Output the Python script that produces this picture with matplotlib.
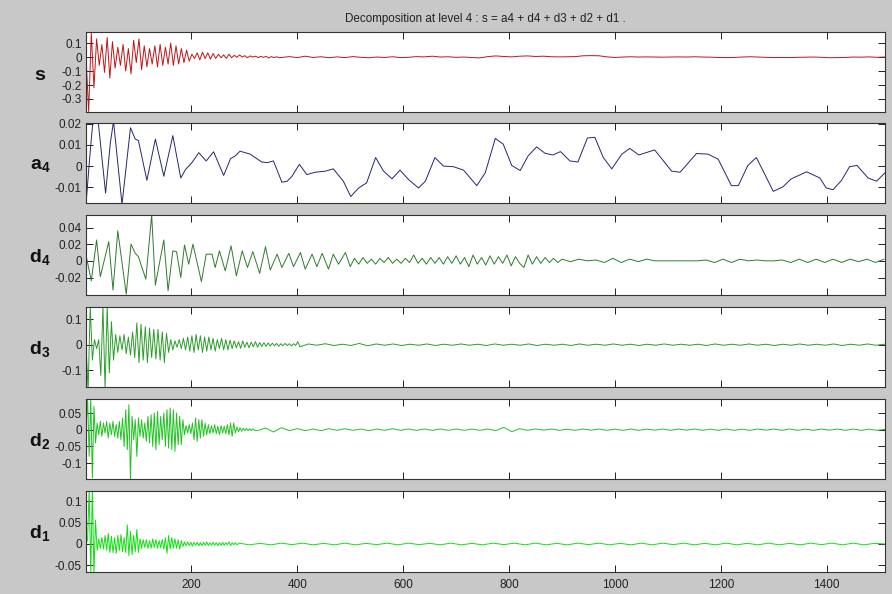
import numpy as np
import matplotlib
matplotlib.use("Agg")
import matplotlib.pyplot as plt

plt.rcParams['font.family'] = ['Liberation Sans', 'DejaVu Sans']
plt.rcParams['mathtext.fontset'] = 'custom'
plt.rcParams['mathtext.rm'] = 'Liberation Sans'
plt.rcParams['mathtext.bf'] = 'Liberation Sans:bold'

# ---------- data ----------
N_SAMPLES = 1510
TITLE = "Decomposition at level 4 : s = a4 + d4 + d3 + d2 + d1 ."
X_TICKS = [200, 400, 600, 800, 1000, 1200, 1400]

# s : head every 5 samples from 1, tail every 15 samples from 385
S_HEAD = [0.01, -0.39, 0.17, -0.22, 0.13, -0.06, 0.09, -0.11, 0.14, -0.15,
          0.11, -0.08, 0.07, -0.06, 0.09, -0.10, 0.06, -0.12, 0.12, -0.04,
          0.13, -0.09, 0.08, -0.07, 0.06, -0.05, 0.08, -0.07, 0.09, -0.06,
          0.07, -0.05, 0.10, -0.06, 0.08, -0.05, 0.06, -0.04, 0.05, -0.03,
          0.02, -0.01, 0.03, -0.02, 0.035, -0.01, 0.03, -0.015, 0.025, -0.01,
          0.02, -0.005, 0.015, -0.01, 0.02, -0.005, 0.012, -0.002, 0.015, 0.0,
          0.01, -0.005, 0.008, 0.0, 0.006, -0.004, 0.005, -0.002, 0.004, -0.006,
          0.003, -0.004, 0.002, -0.005]
S_TAIL = [0.003, -0.004, 0.006, -0.003, 0.002, -0.005, 0.001, -0.004, 0.003, -0.002,
          -0.005, 0.0, -0.003, 0.002, -0.004, -0.002, 0.003, 0.001, 0.006, 0.0,
          0.002, -0.002, 0.0, -0.004, -0.006, 0.003, 0.008, 0.004, 0.001, 0.006,
          0.008, 0.004, 0.006, 0.002, 0.001, 0.002, 0.003, 0.009, 0.010, 0.009,
          0.001, -0.003, 0.0, 0.002, 0.0, 0.001, 0.0, -0.001, 0.0, 0.001,
          0.0, 0.002, 0.0, -0.001, -0.003, -0.004, -0.003, 0.0, 0.002, 0.0,
          -0.002, -0.004, -0.003, -0.004, -0.002, -0.001, 0.0, -0.002, -0.005, -0.004,
          -0.003, 0.0, -0.001, 0.001, -0.002, 0.0]

# a4 : approximation, turning points
A4_X = [1, 8, 14, 24, 38, 47, 53, 69, 85, 94, 100, 116, 132, 148, 165, 180, 189,
        201, 214, 228, 242, 261, 274, 283, 292, 311, 333, 343, 355, 371, 381, 390,
        404, 418, 434, 453, 468, 487, 501, 516, 531, 548, 563, 579, 594, 610, 629,
        642, 660, 676, 695, 714, 739, 755, 774, 789, 805, 821, 836, 852, 868, 883,
        897, 915, 930, 948, 962, 978, 994, 1013, 1028, 1045, 1075, 1107, 1123, 1154,
        1176, 1195, 1220, 1233, 1251, 1267, 1280, 1299, 1317, 1333, 1362, 1387, 1399,
        1412, 1428, 1443, 1457, 1478, 1494, 1510]
A4_Y = [-0.018, 0.004, 0.021, 0.021, -0.0127, 0.011, 0.021, -0.018, 0.018, 0.0127,
        0.012, -0.0067, 0.0127, -0.0048, 0.0143, -0.0056, -0.0016, 0.0016, 0.0063,
        0.0024, 0.0067, -0.0044, 0.0035, 0.0048, 0.007, 0.0056, 0.0019, 0.0016,
        0.0024, -0.0076, -0.0071, -0.0048, 0.0008, -0.004, -0.0029, -0.0024, -0.0013,
        -0.0071, -0.0143, -0.0103, -0.0079, 0.004, -0.0024, -0.006, -0.0019, -0.0063,
        -0.0103, -0.0071, 0.004, 0.0, -0.0003, -0.0019, -0.0092, -0.0032, 0.013,
        0.0103, 0.0003, -0.0021, 0.0048, 0.009, 0.006, 0.0052, 0.0068, 0.0024, 0.0019,
        0.0132, 0.0135, 0.004, -0.0013, 0.0056, 0.0083, 0.0052, 0.0076, -0.0024,
        -0.0029, 0.0059, 0.0056, 0.0032, -0.0092, -0.0092, 0.0003, 0.004, -0.0024,
        -0.0119, -0.0098, -0.006, -0.0027, -0.0056, -0.0103, -0.0111, -0.0067, -0.0003,
        0.0003, -0.0056, -0.0071, -0.0032]

# d4 : turning points up to sample 500, then every 8, then every 16
D4_X = [1, 11, 21, 28, 44, 52, 61, 77, 86, 94, 100, 114, 125, 132, 148, 156, 165,
        172, 180, 187, 195, 203, 219, 228, 239, 245, 253, 264, 275, 285, 296, 306,
        316, 329, 340, 349, 362, 371, 384, 393, 406, 415, 428, 437, 447, 459, 468,
        478, 491, 500]
D4_Y = [0.007, -0.024, 0.025, -0.019, 0.023, -0.035, 0.036, -0.040, 0.020, 0.009,
        0.005, -0.022, 0.055, -0.029, 0.025, -0.036, 0.012, 0.011, -0.020, 0.019,
        -0.004, 0.020, -0.025, 0.008, 0.008, -0.008, 0.012, -0.012, 0.018, -0.018,
        0.012, -0.008, 0.011, -0.015, 0.017, -0.011, 0.008, -0.008, 0.009, -0.007,
        0.010, -0.010, 0.008, -0.007, 0.009, -0.010, 0.008, -0.004, 0.010, -0.007]
D4_MID = [0.003, -0.004, 0.004, -0.003, 0.002, -0.004, 0.003, -0.002, 0.004, -0.003,
          0.002, -0.003, 0.003, -0.002, 0.007, -0.003, 0.003, -0.004, 0.004, -0.003,
          0.004, -0.004, 0.005, -0.003, 0.006, -0.004, 0.004, -0.007, 0.007, -0.004,
          0.004, -0.005, 0.006, -0.004, 0.005, -0.003, 0.007, -0.006, 0.005, -0.003,
          -0.008, 0.007, -0.004, 0.005, -0.003, 0.004, -0.002, 0.003, -0.002, 0.002]
D4_TAIL = [-0.001, 0.002, 0.0, 0.001, -0.002, 0.003, -0.002, 0.002, -0.001, 0.002,
           0.0, 0.0, 0.0, 0.0, 0.0, 0.0, 0.001, -0.002, 0.002, -0.002,
           0.002, 0.0, 0.001, 0.0, 0.0, 0.001, -0.002, 0.002, -0.002, 0.002,
           -0.002, 0.002, -0.002, 0.002, -0.001, 0.002, -0.002, 0.002]

# d3 : every 4 samples from 1, tail every 16 from 421
D3_HEAD = [0.0, -0.18, 0.15, -0.06, 0.02, -0.015, 0.02, -0.12, 0.15, -0.17,
           0.15, -0.11, 0.09, -0.06, 0.04, -0.03, 0.035, -0.02, 0.04, -0.035,
           0.03, -0.04, 0.05, -0.05, 0.085, -0.07, 0.08, -0.06, 0.07, -0.07,
           0.065, -0.05, 0.06, -0.055, 0.06, -0.06, 0.05, -0.07, 0.045, -0.03,
           0.02, -0.02, 0.015, -0.01, 0.02, -0.015, 0.025, -0.02, 0.03, -0.025,
           0.035, -0.03, 0.04, -0.02, 0.035, -0.03, 0.03, -0.025, 0.03, -0.02,
           0.025, -0.025, 0.02, -0.015, 0.025, -0.02, 0.02, -0.02, 0.018, -0.015,
           0.015, -0.012, 0.012, -0.014, 0.015, -0.01, 0.01, -0.012, 0.01, -0.008,
           0.012, -0.01, 0.008, -0.006, 0.008, -0.006, 0.007, -0.005, 0.006, -0.004,
           0.005, -0.006, 0.004, -0.004, 0.005, -0.003, 0.004, -0.005, 0.004, -0.003,
           0.012, -0.008]
D3_TAIL = [0.003, -0.002, 0.004, -0.003, 0.002, -0.003, 0.005, -0.004, 0.003, -0.002,
           0.003, -0.003, 0.002, -0.002, 0.003, -0.003, 0.002, -0.002, 0.003, -0.002,
           0.002, -0.003, 0.003, -0.002, 0.002, -0.002, 0.003, -0.003, 0.002, -0.002,
           0.002, -0.003, 0.003, -0.002, 0.002, -0.002, 0.003, -0.002, 0.002, -0.003,
           0.002, -0.002, 0.003, -0.002, 0.002, -0.002, 0.002, -0.003, 0.003, -0.002,
           0.002, -0.002, 0.003, -0.002, 0.002, -0.003, 0.002, -0.002, 0.003, -0.002,
           0.002, -0.002, 0.003, -0.003, 0.002, -0.002, 0.003, -0.002, 0.002]

# d2 : every 3 samples from 1, tail every 15 from 325
D2_HEAD = [0.0, 0.095, -0.08, 0.095, -0.145, 0.07, -0.04, 0.02, -0.015, 0.025,
           -0.02, 0.02, -0.01, 0.025, -0.025, 0.02, -0.015, 0.025, -0.02, 0.015,
           -0.025, 0.025, -0.03, 0.035, -0.05, 0.06, -0.06, 0.075, -0.15, 0.04,
           -0.03, 0.03, -0.08, 0.035, -0.02, 0.03, -0.025, 0.02, -0.035, 0.04,
           -0.04, 0.045, -0.05, 0.05, -0.06, 0.055, -0.045, 0.04, -0.03, 0.05,
           -0.05, 0.06, -0.055, 0.065, -0.06, 0.06, -0.065, 0.05, -0.045, 0.04,
           -0.045, 0.03, -0.015, 0.012, -0.01, 0.015, -0.012, 0.02, -0.03, 0.035,
           -0.035, 0.03, -0.025, 0.03, -0.02, 0.02, -0.015, 0.015, -0.012, 0.012,
           -0.01, 0.015, -0.012, 0.01, -0.015, 0.012, -0.01, 0.01, -0.012, 0.015,
           -0.015, 0.02, -0.02, 0.02, -0.01, 0.008, -0.006, 0.006, -0.005, 0.004,
           -0.003, 0.004, -0.003, 0.003, -0.003, 0.003, -0.002]
D2_TAIL = [-0.003, 0.005, -0.007, 0.006, -0.003, 0.003, -0.003, 0.002, -0.003, 0.003,
           -0.002, 0.003, -0.002, 0.002, -0.003, 0.002, -0.002, 0.003, -0.002, 0.002,
           -0.002, 0.002, -0.002, 0.002, -0.002, 0.002, -0.002, 0.002, -0.002, 0.002,
           -0.003, 0.007, -0.006, 0.003, -0.002, 0.002, -0.0015, 0.002, -0.002, 0.0015,
           -0.002, 0.002, -0.0015, 0.002, -0.002, 0.0015, -0.002, 0.002, -0.002, 0.0015,
           -0.0015, 0.002, -0.002, 0.002, -0.0015, 0.002, -0.002, 0.0015, -0.002, 0.002,
           -0.002, 0.0015, -0.002, 0.002, -0.0015, 0.002, -0.002, 0.002, -0.002, 0.0015,
           -0.002, 0.002, -0.0015, 0.002, -0.002, 0.002, -0.002, 0.0015, -0.002, 0.001]

# d1 : every 3 samples from 1, tail every 20 from 290
D1_HEAD = [0.0, 0.01, 0.13, -0.07, 0.13, -0.07, 0.056, -0.015, 0.012, -0.01,
           0.015, -0.012, 0.02, -0.015, 0.025, -0.02, 0.018, -0.02, 0.015, -0.022,
           0.02, -0.015, 0.022, -0.018, 0.015, -0.02, 0.045, -0.027, 0.03, -0.025,
           0.02, -0.018, 0.034, -0.02, 0.012, -0.01, 0.01, -0.008, 0.01, -0.01,
           0.008, -0.01, 0.012, -0.008, 0.01, -0.01, 0.008, -0.009, 0.01, -0.012,
           0.015, -0.022, 0.02, -0.012, 0.015, -0.01, 0.012, -0.01, 0.01, -0.012,
           0.008, -0.006, 0.005, -0.004, 0.005, -0.004, 0.004, -0.005, 0.004, -0.003,
           0.004, -0.004, 0.003, -0.004, 0.004, -0.003, 0.005, -0.004, 0.003, -0.003,
           0.004, -0.003, 0.003, -0.004, 0.003, -0.003, 0.004, -0.003, 0.003, -0.002,
           0.005, -0.004, 0.003, -0.002, 0.003, -0.002]
D1_TAIL = [0.002, -0.002, 0.0015, -0.002, 0.002, -0.0015, 0.002, -0.002, 0.0015, -0.002,
           0.002, -0.002, 0.0015, -0.0015, 0.002, -0.002, 0.002, -0.0015, 0.0015, -0.002,
           0.002, -0.002, 0.0015, -0.002, 0.002, -0.0015, 0.002, -0.002, 0.002, -0.002,
           0.0015, -0.002, 0.002, -0.0015, 0.002, -0.002, 0.0015, -0.002, 0.002, -0.002,
           0.002, -0.0015, 0.002, -0.002, 0.0015, -0.002, 0.002, -0.002, 0.0015, -0.002,
           0.002, -0.002, 0.0015, -0.002, 0.002, -0.0015, 0.002, -0.002, 0.002, -0.002,
           0.0015, 0.0]


def steps(start, step, vals):
    return start + step * np.arange(len(vals))


def join(*parts):
    xs = np.concatenate([p[0] for p in parts])
    ys = np.concatenate([np.asarray(p[1], float) for p in parts])
    return xs, ys


series = [
    ("s", join((steps(1, 5, S_HEAD), S_HEAD), (steps(385, 15, S_TAIL), S_TAIL)),
     "#c01515", (-0.393, 0.179), [-0.3, -0.2, -0.1, 0, 0.1], ["-0.3", "-0.2", "-0.1", "0", "0.1"]),
    ("a_4", join((np.array(A4_X), A4_Y)),
     "#26266e", (-0.0175, 0.0201), [-0.01, 0, 0.01, 0.02], ["-0.01", "0", "0.01", "0.02"]),
    ("d_4", join((np.array(D4_X), D4_Y), (steps(508, 8, D4_MID), D4_MID), (steps(916, 16, D4_TAIL), D4_TAIL)),
     "#2f7a2f", (-0.041, 0.055), [-0.02, 0, 0.02, 0.04], ["-0.02", "0", "0.02", "0.04"]),
    ("d_3", join((steps(1, 4, D3_HEAD), D3_HEAD), (steps(421, 16, D3_TAIL), D3_TAIL)),
     "#2a9e2a", (-0.166, 0.146), [-0.1, 0, 0.1], ["-0.1", "0", "0.1"]),
    ("d_2", join((steps(1, 3, D2_HEAD), D2_HEAD), (steps(325, 15, D2_TAIL), D2_TAIL)),
     "#1fc41f", (-0.148, 0.092), [-0.1, -0.05, 0, 0.05], ["-0.1", "-0.05", "0", "0.05"]),
    ("d_1", join((steps(1, 3, D1_HEAD), D1_HEAD), (steps(290, 20, D1_TAIL), D1_TAIL)),
     "#10e010", (-0.065, 0.125), [-0.05, 0, 0.05, 0.1], ["-0.05", "0", "0.05", "0.1"]),
]

# axes boxes in pixels (top, bottom) of the 892x594 canvas
W, H = 892, 594
LEFT, RIGHT = 86, 885
ROWS = [(32, 112), (123.3, 203.3), (215, 295), (307.3, 387.3), (399, 479), (490.7, 571.7)]

fig = plt.figure(figsize=(W / 100, H / 100), dpi=100, facecolor="#c8c8c8")

for k, (name, (xs, ys), color, ylim, yt, ytl) in enumerate(series):
    top, bot = ROWS[k]
    ax = fig.add_axes([LEFT / W, 1 - bot / H, (RIGHT - LEFT) / W, (bot - top) / H])
    ax.plot(xs, ys, color=color, lw=0.7)
    ax.set_xlim(1, N_SAMPLES)
    ax.set_ylim(*ylim)
    ax.set_yticks(yt)
    ax.set_yticklabels(ytl)
    ax.set_xticks(X_TICKS)
    last = k == len(series) - 1
    ax.set_xticklabels([str(v) for v in X_TICKS] if last else [])
    ax.tick_params(direction="in", length=5, width=0.7, top=True, right=True,
                   labelsize=8.5, pad=3, colors="#222222")
    ax.tick_params(axis="x", pad=5)
    for sp in ax.spines.values():
        sp.set_linewidth(0.8)
        sp.set_color("#333333")
    if "_" in name:
        a, b = name.split("_")
        lab = r"$\mathbf{%s}_{\mathbf{%s}}$" % (a, b)
    else:
        lab = r"$\mathbf{%s}$" % name
    fig.text(40 / W, 1 - ((top + bot) / 2 + 3) / H, lab, fontsize=14,
             ha="center", va="center", color="#111111")

fig.text((LEFT + RIGHT) / 2 / W, 1 - 19 / H, TITLE, fontsize=8.4,
         ha="center", va="center", color="#222222")

fig.savefig("out.png", dpi=100, facecolor=fig.get_facecolor())
